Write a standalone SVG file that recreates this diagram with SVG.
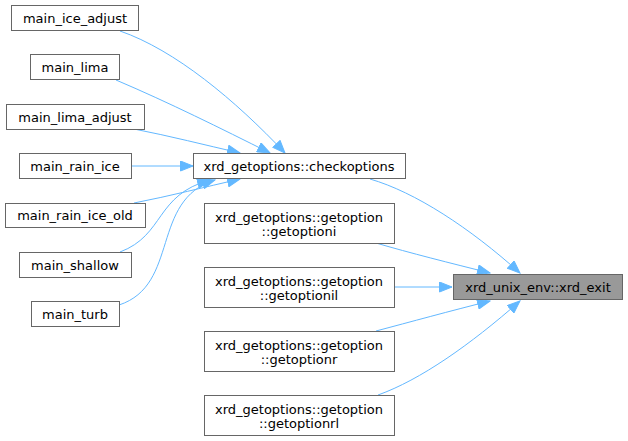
<svg xmlns="http://www.w3.org/2000/svg" width="628" height="441" viewBox="0 0 628 441">
<defs>
<marker id="ah" markerUnits="userSpaceOnUse" markerWidth="14" markerHeight="11" refX="13" refY="5.5" orient="auto">
<path d="M0.5,0.5 L13,5.5 L0.5,10.5 z" fill="#63b8ff" stroke="#63b8ff" stroke-width="1"/>
</marker>
</defs>
<style>
.n rect{fill:#fff;stroke:#666;stroke-width:1}
.n.hl rect{fill:#999;stroke:#666}
text{font-family:"DejaVu Sans",sans-serif;font-size:13px;fill:#000;text-anchor:middle}
.e path{fill:none;stroke:#63b8ff;stroke-width:1;marker-end:url(#ah)}
</style>
<rect width="628" height="441" fill="#fff"/>
<g class="e" id="edges">
<path d="M370,179 C415,192 470,228 520,273"/>
<path d="M376,243 C410,253 450,263 490,273"/>
<path d="M394,287 L452,287"/>
<path d="M376,331 C410,322 450,311 490,301"/>
<path d="M378,395 C420,380 470,345 520,301"/>
<path d="M120,31 C175,50 235,100 285,153"/>
<path d="M116,80 C170,103 220,128 270,153"/>
<path d="M134,129 C170,136 205,145 240,153"/>
<path d="M132,166 L193,166"/>
<path d="M134,203 C170,196 205,187 240,179"/>
<path d="M120,252 C165,235 155,195 210,180"/>
<path d="M119,305 C180,285 150,200 215,180"/>
</g>
<g class="n" id="main_ice_adjust"><rect x="11.5" y="5.5" width="127" height="25"/><text x="75" y="22.5">main_ice_adjust</text></g>
<g class="n" id="main_lima"><rect x="30.5" y="54.5" width="89" height="25"/><text x="75" y="71.5">main_lima</text></g>
<g class="n" id="main_lima_adjust"><rect x="6.5" y="104.5" width="138" height="25"/><text x="75" y="121.5">main_lima_adjust</text></g>
<g class="n" id="main_rain_ice"><rect x="19.5" y="153.5" width="112" height="25"/><text x="75" y="170.5">main_rain_ice</text></g>
<g class="n" id="main_rain_ice_old"><rect x="5.5" y="203.5" width="140" height="24"/><text x="75" y="220">main_rain_ice_old</text></g>
<g class="n" id="main_shallow"><rect x="19.5" y="252.5" width="112" height="25"/><text x="75" y="269.5">main_shallow</text></g>
<g class="n" id="main_turb"><rect x="31.5" y="301.5" width="88" height="25"/><text x="75" y="318.5">main_turb</text></g>
<g class="n" id="checkoptions"><rect x="193.5" y="153.5" width="212" height="25"/><text x="299" y="170.5">xrd_getoptions::checkoptions</text></g>
<g class="n" id="getoptioni"><rect x="204.5" y="203.5" width="190" height="40"/><text x="299" y="222">xrd_getoptions::getoption</text><text x="299" y="236">::getoptioni</text></g>
<g class="n" id="getoptionil"><rect x="204.5" y="267.5" width="190" height="40"/><text x="299" y="286">xrd_getoptions::getoption</text><text x="299" y="300">::getoptionil</text></g>
<g class="n" id="getoptionr"><rect x="204.5" y="331.5" width="190" height="40"/><text x="299" y="350">xrd_getoptions::getoption</text><text x="299" y="364">::getoptionr</text></g>
<g class="n" id="getoptionrl"><rect x="204.5" y="395.5" width="190" height="40"/><text x="299" y="414">xrd_getoptions::getoption</text><text x="299" y="428">::getoptionrl</text></g>
<g class="n hl" id="xrd_exit"><rect x="453.5" y="274.5" width="169" height="25"/><text x="538" y="291.5">xrd_unix_env::xrd_exit</text></g>
</svg>
